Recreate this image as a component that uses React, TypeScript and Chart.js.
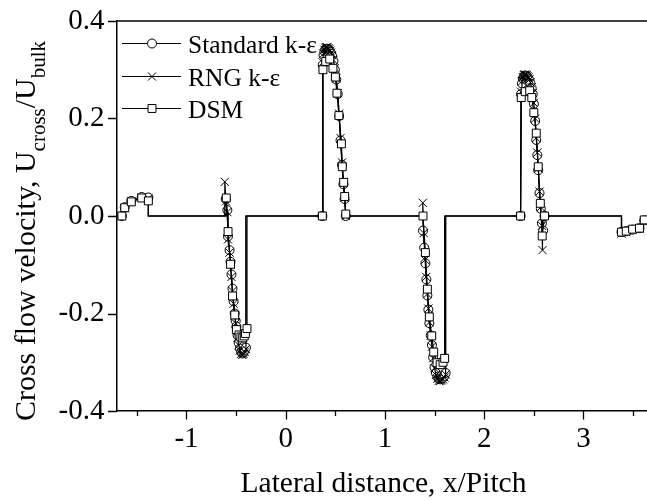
import React, { useEffect, useRef } from "react";
import { Chart, registerables } from "chart.js";

Chart.register(...registerables);

// ---- data ----
const SERIES_LABELS = ["Standard k-ε", "RNG k-ε", "DSM"];
const X_TICKS = [-1, 0, 1, 2, 3];
const X_MINOR = [-1.5, -0.5, 0.5, 1.5, 2.5, 3.5];
const Y_TICKS = [-0.4, -0.2, 0, 0.2, 0.4];
const X_TITLE = "Lateral distance, x/Pitch";
const Y_TITLE_MAIN = "Cross flow velocity, U";
const Y_TITLE_SUB1 = "cross";
const Y_TITLE_MID = "/U";
const Y_TITLE_SUB2 = "bulk";

const stdX = [
  -1.651, -1.622, -1.556, -1.451, -1.384,
  -0.604, -0.588, -0.582, -0.566, -0.556, -0.547, -0.536, -0.525, -0.514, -0.504, -0.497, -0.485, -0.474, -0.461, -0.449, -0.437, -0.425, -0.414, -0.401,
  0.369, 0.373, 0.381, 0.39, 0.4, 0.41, 0.419, 0.429, 0.438, 0.448, 0.457, 0.467, 0.481, 0.495, 0.509, 0.524, 0.538, 0.552, 0.567, 0.581, 0.593, 0.605,
  1.383, 1.395, 1.407, 1.417, 1.427, 1.437, 1.447, 1.461, 1.473, 1.485, 1.499, 1.513, 1.528, 1.542, 1.556, 1.571, 1.585, 1.599, 1.611,
  2.366, 2.371, 2.38, 2.389, 2.399, 2.408, 2.418, 2.427, 2.437, 2.446, 2.456, 2.465, 2.478, 2.489, 2.5, 2.513, 2.524, 2.535, 2.544, 2.557, 2.57, 2.581, 2.594, 2.608,
  3.383, 3.431, 3.495, 3.564, 3.612,
];
const stdY = [
  0, 0.018, 0.031, 0.039, 0.038,
  0.035, 0.012, -0.042, -0.07, -0.094, -0.12, -0.149, -0.175, -0.2, -0.215, -0.227, -0.245, -0.26, -0.272, -0.279, -0.282, -0.28, -0.276, -0.27,
  0, 0.31, 0.33, 0.338, 0.342, 0.343, 0.343, 0.342, 0.34, 0.337, 0.333, 0.328, 0.318, 0.3, 0.28, 0.25, 0.205, 0.155, 0.105, 0.065, 0.035, 0,
  -0.03, -0.065, -0.097, -0.13, -0.163, -0.192, -0.22, -0.245, -0.265, -0.29, -0.31, -0.322, -0.33, -0.334, -0.335, -0.334, -0.332, -0.328, -0.322,
  0, 0.25, 0.272, 0.282, 0.286, 0.288, 0.288, 0.287, 0.285, 0.282, 0.278, 0.272, 0.262, 0.25, 0.23, 0.195, 0.156, 0.125, 0.094, 0.047, 0.015, -0.015, -0.03, 0,
  -0.033, -0.031, -0.028, -0.025, -0.009,
];

const rngX = [
  -1.651, -1.622, -1.556, -1.451, -1.384,
  -0.614, -0.602, -0.588, -0.582, -0.566, -0.556, -0.547, -0.536, -0.525, -0.514, -0.504, -0.497, -0.485, -0.474, -0.461, -0.449, -0.437, -0.425, -0.414, -0.401,
  0.369, 0.373, 0.381, 0.39, 0.4, 0.41, 0.419, 0.429, 0.438, 0.448, 0.457, 0.467, 0.481, 0.495, 0.509, 0.524, 0.538, 0.552, 0.567, 0.581, 0.593, 0.605,
  1.381, 1.39, 1.404, 1.415, 1.427, 1.437, 1.447, 1.461, 1.473, 1.485, 1.499, 1.513, 1.528, 1.542, 1.556, 1.571, 1.585, 1.599, 1.611,
  2.366, 2.371, 2.38, 2.389, 2.399, 2.408, 2.418, 2.427, 2.437, 2.446, 2.456, 2.465, 2.478, 2.489, 2.5, 2.513, 2.524, 2.535, 2.544, 2.557, 2.57, 2.581, 2.587,
  3.383, 3.431, 3.495, 3.564, 3.612,
];
const rngY = [
  0, 0.016, 0.03, 0.038, 0.036,
  0.07, 0.03, 0.008, -0.048, -0.075, -0.1, -0.125, -0.154, -0.18, -0.205, -0.22, -0.232, -0.25, -0.265, -0.276, -0.283, -0.285, -0.283, -0.279, -0.273,
  0, 0.315, 0.333, 0.341, 0.345, 0.346, 0.346, 0.344, 0.342, 0.339, 0.335, 0.33, 0.32, 0.303, 0.282, 0.252, 0.21, 0.16, 0.11, 0.07, 0.038, 0,
  0.027, -0.035, -0.09, -0.125, -0.16, -0.19, -0.218, -0.245, -0.268, -0.292, -0.312, -0.326, -0.334, -0.338, -0.338, -0.337, -0.335, -0.331, -0.325,
  0, 0.255, 0.276, 0.285, 0.289, 0.29, 0.29, 0.289, 0.287, 0.284, 0.28, 0.274, 0.264, 0.252, 0.232, 0.2, 0.16, 0.13, 0.098, 0.05, 0.018, -0.02, -0.07,
  -0.036, -0.033, -0.029, -0.026, -0.01,
];

const dsmX = [
  -1.651, -1.622, -1.556, -1.451, -1.384,
  -0.599, -0.581, -0.556, -0.536, -0.514, -0.497, -0.47, -0.452, -0.433, -0.418, -0.406, -0.39,
  0.369, 0.375, 0.403, 0.443, 0.476, 0.5, 0.516, 0.536, 0.561, 0.57, 0.584, 0.594, 0.605,
  1.383, 1.407, 1.427, 1.447, 1.471, 1.491, 1.524, 1.556, 1.585, 1.601,
  2.366, 2.373, 2.413, 2.458, 2.479, 2.5, 2.524, 2.544, 2.565, 2.584, 2.608,
  3.383, 3.431, 3.495, 3.564, 3.612,
];
const dsmY = [
  0, 0.017, 0.029, 0.037, 0.031,
  0.037, -0.032, -0.099, -0.164, -0.203, -0.233, -0.244, -0.248, -0.25, -0.246, -0.241, -0.231,
  0, 0.3, 0.317, 0.322, 0.303, 0.285, 0.252, 0.206, 0.148, 0.101, 0.069, 0.04, 0.004,
  0, -0.075, -0.15, -0.207, -0.246, -0.279, -0.301, -0.305, -0.3, -0.292,
  0, 0.243, 0.255, 0.257, 0.243, 0.212, 0.17, 0.101, 0.026, -0.041, 0,
  -0.033, -0.031, -0.027, -0.025, -0.008,
];

const GAP = 0.2;
const FONT = "'Liberation Serif', 'Times New Roman', serif";

function buildPath(xs: number[], ys: number[]) {
  const pts: { x: number; y: number; c?: boolean }[] = [];
  for (let i = 0; i < xs.length; i++) {
    if (i > 0 && xs[i] - xs[i - 1] > GAP) {
      if (ys[i - 1] !== 0) pts.push({ x: xs[i - 1], y: 0, c: true });
      if (ys[i] !== 0) pts.push({ x: xs[i], y: 0, c: true });
    }
    pts.push({ x: xs[i], y: ys[i] });
  }
  return pts;
}

const STYLES = [
  { pointStyle: "circle", radius: 4.5 },
  { pointStyle: "crossRot", radius: 5.8 },
  { pointStyle: "rect", radius: 5.6 },
];

function drawMarker(ctx: CanvasRenderingContext2D, style: string, x: number, y: number, r: number) {
  ctx.beginPath();
  if (style === "circle") {
    ctx.arc(x, y, r, 0, Math.PI * 2);
    ctx.fillStyle = "#fff";
    ctx.fill();
    ctx.stroke();
  } else if (style === "crossRot") {
    const d = r * Math.SQRT1_2;
    ctx.moveTo(x - d, y - d);
    ctx.lineTo(x + d, y + d);
    ctx.moveTo(x - d, y + d);
    ctx.lineTo(x + d, y - d);
    ctx.stroke();
  } else {
    const s = r * Math.SQRT1_2;
    ctx.rect(x - s, y - s, 2 * s, 2 * s);
    ctx.fillStyle = "#fff";
    ctx.fill();
    ctx.stroke();
  }
}

const framePlugin = {
  id: "frameAndText",
  afterDraw(chart: any) {
    const ctx: CanvasRenderingContext2D = chart.ctx;
    const { left, right, top, bottom } = chart.chartArea;
    const xs = chart.scales.x;
    const ys = chart.scales.y;
    ctx.save();
    ctx.strokeStyle = "#000";
    ctx.lineWidth = 1.5;
    // top & right frame
    ctx.beginPath();
    ctx.moveTo(left, top);
    ctx.lineTo(right, top);
    ctx.lineTo(right, bottom);
    ctx.stroke();
    // tick marks
    ctx.lineWidth = 1.3;
    ctx.beginPath();
    X_TICKS.forEach((v) => {
      const p = Math.round(xs.getPixelForValue(v)) + 0.5;
      ctx.moveTo(p, bottom);
      ctx.lineTo(p, bottom + 8.5);
    });
    X_MINOR.forEach((v) => {
      const p = Math.round(xs.getPixelForValue(v)) + 0.5;
      ctx.moveTo(p, bottom);
      ctx.lineTo(p, bottom + 5);
    });
    Y_TICKS.forEach((v) => {
      const p = Math.round(ys.getPixelForValue(v)) + 0.5;
      ctx.moveTo(left, p);
      ctx.lineTo(left - 9, p);
    });
    ctx.stroke();

    // legend
    const rows = [43, 76, 108];
    ctx.font = `25.5px ${FONT}`;
    ctx.textBaseline = "alphabetic";
    ctx.textAlign = "left";
    SERIES_LABELS.forEach((label, i) => {
      const y = rows[i];
      ctx.strokeStyle = "#000";
      ctx.lineWidth = 1.2;
      ctx.beginPath();
      ctx.moveTo(122, y + 0.5);
      ctx.lineTo(181, y + 0.5);
      ctx.stroke();
      ctx.lineWidth = 1;
      drawMarker(ctx, STYLES[i].pointStyle, 152, y + 0.5, STYLES[i].radius);
      ctx.fillStyle = "#000";
      ctx.fillText(label, 188, y + 10);
    });

    // x title
    ctx.fillStyle = "#000";
    ctx.font = `29.5px ${FONT}`;
    ctx.textAlign = "center";
    ctx.fillText(X_TITLE, 383.5, 492);

    // y title (rotated, with subscripts)
    const mainFont = `30px ${FONT}`;
    const subFont = `21px ${FONT}`;
    const parts = [
      { t: Y_TITLE_MAIN, f: mainFont, dy: 0 },
      { t: Y_TITLE_SUB1, f: subFont, dy: 10 },
      { t: Y_TITLE_MID, f: mainFont, dy: 0 },
      { t: Y_TITLE_SUB2, f: subFont, dy: 10 },
    ];
    let total = 0;
    parts.forEach((p) => {
      ctx.font = p.f;
      total += ctx.measureText(p.t).width;
    });
    ctx.translate(35, 231);
    ctx.rotate(-Math.PI / 2);
    ctx.textAlign = "left";
    let cx = -total / 2;
    parts.forEach((p) => {
      ctx.font = p.f;
      ctx.fillText(p.t, cx, p.dy);
      cx += ctx.measureText(p.t).width;
    });
    ctx.restore();
  },
};

export default function App() {
  const ref = useRef<HTMLCanvasElement | null>(null);
  useEffect(() => {
    if (!ref.current) return;
    const series = [
      { xs: stdX, ys: stdY },
      { xs: rngX, ys: rngY },
      { xs: dsmX, ys: dsmY },
    ];
    const datasets = series.map((s, i) => ({
      label: SERIES_LABELS[i],
      data: buildPath(s.xs, s.ys),
      showLine: true,
      borderColor: "#000",
      borderWidth: 1.2,
      pointStyle: STYLES[i].pointStyle,
      pointRadius: (c: any) => (c.raw && c.raw.c ? 0 : STYLES[i].radius),
      pointBackgroundColor: "#fff",
      pointBorderColor: "#000",
      pointBorderWidth: 1,
      order: 3 - i,
    }));
    const chart = new Chart(ref.current, {
      type: "scatter",
      data: { datasets } as any,
      options: {
        responsive: false,
        animation: false,
        devicePixelRatio: 1,
        layout: { padding: { top: 21, right: 32, left: 0, bottom: 0 } },
        plugins: { legend: { display: false }, tooltip: { enabled: false } },
        scales: {
          x: {
            type: "linear",
            min: -1.7,
            max: 3.65,
            grid: { display: false, drawTicks: false },
            border: { display: true, color: "#000", width: 1.5 },
            ticks: {
              color: "#000",
              font: { family: FONT, size: 29 },
              padding: 10.6,
              callback: (v: any) => String(v),
            },
            afterBuildTicks: (s: any) => {
              s.ticks = X_TICKS.map((v) => ({ value: v }));
            },
            afterFit: (s: any) => {
              s.height = 89;
            },
          },
          y: {
            type: "linear",
            min: -0.4,
            max: 0.4,
            grid: { display: false, drawTicks: true, tickLength: 7 },
            border: { display: true, color: "#000", width: 1.5 },
            ticks: {
              color: "#000",
              font: { family: FONT, size: 29, lineHeight: 1 },
              padding: 5.5,
              callback: (v: any) => Number(v).toFixed(1),
            },
            afterBuildTicks: (s: any) => {
              s.ticks = Y_TICKS.map((v) => ({ value: v }));
            },
            afterFit: (s: any) => {
              s.width = 117;
            },
          },
        },
      } as any,
      plugins: [framePlugin],
    });
    return () => chart.destroy();
  }, []);
  return (
    <div
      style={{
        position: "fixed",
        left: 0,
        top: 0,
        width: 647,
        height: 500,
        overflow: "hidden",
        background: "#fff",
      }}
    >
      <canvas ref={ref} width={680} height={500} style={{ display: "block" }} />
    </div>
  );
}
